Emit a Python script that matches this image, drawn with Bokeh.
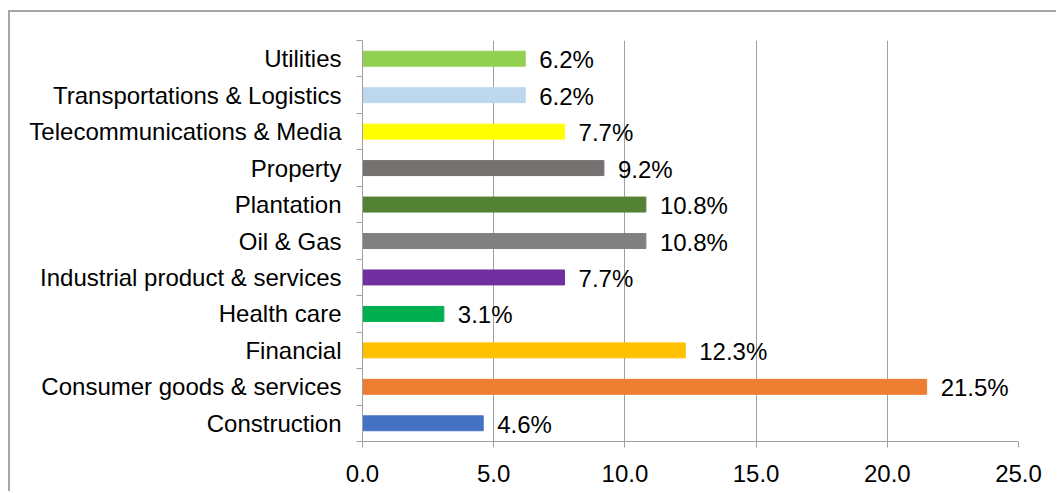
from bokeh.plotting import figure
from bokeh.models import FixedTicker, NumeralTickFormatter, ColumnDataSource
from bokeh.core.properties import value
from bokeh.embed import file_html
from bokeh.resources import INLINE

categories = ["Construction", "Consumer goods & services", "Financial", "Health care",
              "Industrial product & services", "Oil & Gas", "Plantation", "Property",
              "Telecommunications & Media", "Transportations & Logistics", "Utilities"]
values = [4.6, 21.5, 12.3, 3.1, 7.7, 10.8, 10.8, 9.2, 7.7, 6.2, 6.2]
colors = ["#4472C4", "#ED7D31", "#FFC000", "#00B050", "#7030A0", "#808080",
          "#548235", "#767171", "#FFFF00", "#BDD7EE", "#92D050"]
x_ticks = [0, 5, 10, 15, 20, 25]

FONT = "Liberation Sans"
FS = "24px"
ypos = list(range(len(categories)))

src = ColumnDataSource(dict(
    y=ypos, v=values, c=colors,
    lbl=["%.1f%%" % v for v in values],
))

# canvas offset by css margin+border: left 10, top 12
p = figure(width=1048, height=481, output_backend="svg", toolbar_location=None,
           x_range=(0, 25), y_range=(-0.5, len(categories) - 0.5),
           min_border_left=352, min_border_right=40, min_border_top=28,
           min_border_bottom=52)
p.margin = (10, 0, 0, 8)
p.styles = {"border-top": "2px solid #a6a6a6", "border-left": "2px solid #a6a6a6"}
p.outline_line_color = None

p.hbar(y="y", right="v", left=0, height=0.41, color="c", source=src)
p.text(x="v", y="y", text="lbl", source=src, x_offset=14, y_offset=1,
       text_baseline="middle", text_align="left", text_font=value(FONT),
       text_font_size=FS, text_color="#000000")

# x axis
xa = p.xaxis[0]
xa.ticker = FixedTicker(ticks=x_ticks)
xa.formatter = NumeralTickFormatter(format="0.0")
xa.major_label_text_font = FONT
xa.major_label_text_font_size = FS
xa.major_label_text_color = "#000000"
xa.axis_line_color = "#a0a0a0"
xa.major_tick_line_color = "#a0a0a0"
xa.major_tick_out = 6
xa.major_tick_in = 0
xa.minor_tick_line_color = None
xa.major_label_standoff = 17

# y axis
ya = p.yaxis[0]
ya.ticker = FixedTicker(ticks=ypos, minor_ticks=[i - 0.5 for i in range(len(categories) + 1)])
ya.major_label_overrides = {i: c for i, c in enumerate(categories)}
ya.major_label_text_font = FONT
ya.major_label_text_font_size = FS
ya.major_label_text_color = "#000000"
ya.axis_line_color = "#a0a0a0"
ya.major_tick_line_color = None
ya.major_tick_out = 0
ya.major_tick_in = 0
ya.minor_tick_line_color = "#a0a0a0"
ya.minor_tick_out = 6
ya.minor_tick_in = 0
ya.major_label_standoff = 15

p.xgrid.grid_line_color = "#a0a0a0"
p.xgrid.ticker = FixedTicker(ticks=x_ticks)
p.ygrid.grid_line_color = None

open("out.html", "w").write(file_html(p, INLINE))
